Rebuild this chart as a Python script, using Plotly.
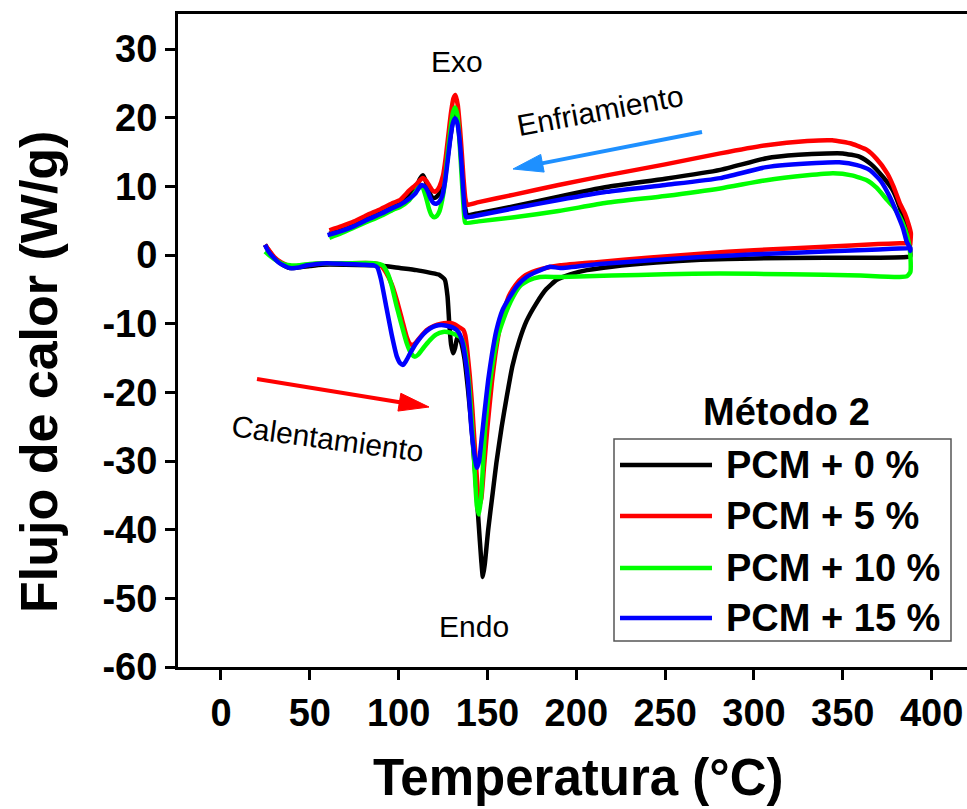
import plotly.graph_objects as go
import math

# ---------------- data ----------------
# PCM + 0 %
t0_heat = [24.8, 27, 30, 34, 38.8, 44, 50, 57, 70, 88, 100.7, 110, 118, 123, 126, 127.5, 128.5, 129.5, 130.7,
           131.7, 132.6, 133.5, 135, 137, 139, 141, 143, 145, 146.5, 147.4, 148.5, 150.4, 153, 155, 158, 160.8,
           164, 168, 172, 177.6, 183, 189, 197, 206, 220, 245, 270, 300, 340, 371, 386, 388]
q0_heat = [1.5, 0.6, -0.4, -1.3, -1.9, -1.8, -1.6, -1.4, -1.4, -1.5, -1.9, -2.2, -2.6, -2.9, -3.6, -6, -10, -13,
           -14.3, -13.6, -12.4, -11.8, -12.6, -15, -19.5, -25, -31.5, -39, -44.5, -46.9, -45, -40, -34.5, -30.3,
           -25, -20.7, -16.2, -12.4, -9.6, -7, -5, -3.6, -2.8, -2.2, -1.7, -1.1, -0.7, -0.5, -0.4, -0.4, -0.3, -0.2]
t0_cool = [388, 387.5, 386, 384, 382, 378, 372.5, 366, 359.6, 350, 341, 325, 307, 281, 250, 217, 190, 165, 145,
           138.5, 137.5, 136.5, 135.3, 134.2, 133, 131.7, 130.5, 129, 127, 125, 123, 121, 119.5, 117.5, 115.5,
           113.8, 112, 110, 106, 100.7, 97, 90, 82, 75, 68, 61]
q0_cool = [0.3, 1.8, 3.5, 5.2, 7, 9.5, 11.4, 13.2, 14.3, 14.8, 14.8, 14.6, 14.1, 12.4, 11.1, 9.9, 8.5, 7.1, 6.1,
           5.8, 6.8, 9.5, 14, 17.5, 19.7, 20.3, 19.5, 17, 13.2, 10.4, 9.0, 8.4, 8.3, 9.0, 10.6,
           11.6, 11.1, 9.9, 8.9, 7.6, 7.0, 6.2, 5.3, 4.5, 3.8, 3.1]

# PCM + 5 %
t5_heat = [24.8, 27, 30, 34, 38.8, 44, 50, 57, 70, 86, 90, 93, 96, 99, 102, 104.5, 106.2, 107.5, 109.5, 112,
           116, 120, 124, 127, 129, 131.5, 134, 136.4, 137.5, 138.4, 140, 141.5, 143, 144.3, 145.3, 146.5, 148,
           150, 152.5, 155, 158, 162, 166, 170, 175, 181, 191, 213, 240, 270, 300, 340, 370, 382, 388]
q5_heat = [1.5, 0.7, -0.3, -1.1, -1.6, -1.6, -1.4, -1.2, -1.2, -1.2, -1.5, -2.6, -4.2, -6.6, -9.5, -11.9, -12.9,
           -13.1, -12.8, -12, -10.9, -10.3, -10.0, -9.9, -9.9, -10.1, -10.5, -10.9, -11.7, -13.4, -17.5, -22.5,
           -28.5, -33.5, -36.5, -35.5, -31, -25, -18.5, -13.5, -9.2, -6, -4.3, -3.2, -2.5, -2.0, -1.5, -1.0,
           -0.4, 0.2, 0.7, 1.2, 1.6, 1.7, 1.7]
t5_cool = [388, 388.3, 387, 385, 382, 378.5, 375, 369, 363.5, 355, 344, 330, 307, 281, 250, 217, 190, 165, 145,
           138.5, 137.5, 136.5, 135.5, 134.5, 133.3, 132, 130.8, 129.5, 128, 126.5, 125, 123, 121.5, 120.4, 119,
           117.5, 115.5, 113.5, 112, 110, 106, 100.7, 97, 90, 82, 75, 68, 61]
q5_cool = [1.7, 3.2, 4.5, 6, 7.6, 10, 11.9, 14, 15.3, 16.2, 16.7, 16.6, 16.0, 14.8, 13.2, 11.6, 10.2, 8.8, 7.7,
           7.3, 8.3, 11.2, 15, 18.5, 21.8, 23.3, 22.8, 20.8, 17.5, 14.2, 11.6, 10.0, 9.4, 9.2, 9.4,
           10.0, 10.8, 11.2, 10.9, 10.3, 9.4, 8.0, 7.6, 6.7, 5.8, 4.9, 4.2, 3.6]

# PCM + 10 %
t10_heat = [24.8, 27, 30, 34, 38.8, 44, 50, 57, 70, 86, 91, 94, 96, 99, 102, 104.5, 107, 109, 111, 114, 117.6,
            121, 125, 129, 132, 134.5, 136, 137.3, 138.5, 140, 141.5, 142.8, 144, 145.2, 146.5, 148.6, 151, 153,
            155.5, 158.8, 163, 168, 173, 179.5, 191, 220, 250, 281, 320, 360, 382, 386, 388, 388.2]
q10_heat = [0.5, 0.0, -0.6, -1.2, -1.5, -1.5, -1.3, -1.2, -1.2, -1.2, -1.5, -2.8, -4.4, -7.6, -10.5, -12.8,
            -14.3, -14.8, -14.5, -13.5, -12.4, -11.6, -11.2, -11.3, -11.6, -11.9, -12.5, -13.8, -16, -20, -25.5,
            -31.5, -36.5, -37.8, -35, -25.5, -19.5, -15.7, -12.2, -9.5, -6.8, -4.6, -3.7, -3.2, -3.2, -3.0,
            -2.8, -2.7, -2.8, -3.0, -3.2, -3.1, -2.5, -1.0]
t10_cool = [387.5, 386.5, 385, 382, 378.5, 375, 369, 363.5, 355, 344.5, 330, 307, 281, 250, 217, 190, 165, 145,
            137.5, 136.8, 136, 135, 134, 133, 131.7, 130.5, 129, 127.5, 126, 124.5, 123, 121.5, 120, 118.5, 117,
            115.5, 113.5, 111.5, 109.5, 106, 100.7, 97, 90, 82, 75, 68, 61]
q10_cool = [1.2, 2.5, 3.8, 5.6, 7.0, 8.0, 9.8, 10.9, 11.6, 11.9, 11.6, 10.9, 9.7, 8.6, 7.6, 6.4, 5.5, 4.9,
            4.7, 6.0, 9.0, 13.5, 17.5, 20.5, 21.5, 20.7, 18, 14.5, 10.5, 8.0, 6.4, 5.7, 5.5, 5.8, 6.8,
            8.3, 9.8, 9.9, 9.2, 8.0, 7.0, 6.6, 5.7, 4.8, 4.0, 3.2, 2.5]

# PCM + 15 %
t15_heat = [24.8, 26.5, 29.3, 33, 38.8, 44, 48.4, 54, 59.6, 70, 80, 86, 88, 90, 93, 96, 99, 101, 102.5, 104,
            106.5, 110, 114, 117.6, 121, 124, 127, 130, 132.6, 134.5, 136, 137.5, 139, 141, 142.5, 144, 145.3,
            146.8, 148.5, 150.4, 152.5, 155, 158.5, 162.6, 167, 172, 178, 185, 191, 213, 240, 270, 300, 340, 370,
            386, 388]
q15_heat = [1.5, 0.6, -0.3, -1.2, -1.9, -1.8, -1.5, -1.3, -1.2, -1.3, -1.4, -1.5, -1.8, -3.5, -7.5, -11.5,
            -14.8, -15.8, -16, -15.5, -14.3, -12.8, -11.5, -10.7, -10.3, -10.2, -10.3, -10.5, -10.9, -11.6,
            -12.8, -15, -18.2, -25.5, -28.8, -31, -30, -26.5, -22.5, -18.2, -14.5, -11, -8, -6.1, -4.4, -3.2,
            -2.4, -1.7, -1.9, -1.3, -0.8, -0.3, 0.1, 0.5, 0.8, 1.0, 1.0]
t15_cool = [388, 387.5, 386, 384, 380.5, 376, 371, 365, 358, 348, 335, 307, 281, 250, 217, 190, 165, 145,
            138, 137.2, 136.4, 135.4, 134.3, 133, 131.7, 130.5, 129, 127.5, 126, 124.5, 123, 121.5, 119.5, 118,
            116.5, 115, 113, 111.5, 109.5, 106, 100.7, 97, 90, 82, 75, 68, 60]
q15_cool = [0.6, 1.2, 1.9, 3.8, 6.1, 8.7, 10.9, 12.4, 13.1, 13.5, 13.4, 12.8, 11.2, 10.2, 9.2, 8.0, 6.8, 5.8,
            5.5, 6.5, 9.2, 13.2, 16.8, 19.2, 19.9, 19.2, 16.8, 13.5, 10.5, 8.6, 7.8, 7.5, 7.6, 8.2,
            9.2, 9.9, 10.2, 9.8, 9.0, 8.2, 7.3, 6.9, 6.0, 5.1, 4.2, 3.5, 2.9]

labels = ["PCM + 0 %", "PCM + 5 %", "PCM + 10 %", "PCM + 15 %"]
colors = ["#000000", "#ff0000", "#00ff00", "#0000ff"]

series = [
    (t0_heat + t0_cool, q0_heat + q0_cool),
    (t5_heat + t5_cool, q5_heat + q5_cool),
    (t10_heat + t10_cool, q10_heat + q10_cool),
    (t15_heat + t15_cool, q15_heat + q15_cool),
]

x_ticks = [0, 50, 100, 150, 200, 250, 300, 350, 400]
y_ticks = [30, 20, 10, 0, -10, -20, -30, -40, -50, -60]
x_title = "Temperatura (°C)"
y_title = "Flujo de calor (W/g)"

FONT = "Liberation Sans, Arial, sans-serif"

fig = go.Figure()
for (tx, qy), name, col in zip(series, labels, colors):
    fig.add_trace(go.Scatter(x=tx, y=qy, mode="lines", name=name,
                             line=dict(color=col, width=4.5, shape="spline", smoothing=0.5),
                             showlegend=False))

W, H = 967, 809
L, R, T, B = 178, 967, 14, 667


def px(xp):
    return (xp - L) / (R - L)


def py(yp):
    return (B - yp) / (B - T)


shapes = []
annotations = []


def arrow(x0, y0, x1, y1, color, head_len=30, half_w=9, lw=4):
    dx, dy = x1 - x0, y1 - y0
    ln = math.hypot(dx, dy)
    ux, uy = dx / ln, dy / ln
    nx, ny = -uy, ux
    bx, by = x1 - head_len * ux, y1 - head_len * uy
    shapes.append(dict(type="line", xref="paper", yref="paper",
                       x0=px(x0), y0=py(y0), x1=px(bx + 2 * ux), y1=py(by + 2 * uy),
                       line=dict(color=color, width=lw)))
    p = "M {} {} L {} {} L {} {} Z".format(
        px(x1), py(y1), px(bx + half_w * nx), py(by + half_w * ny), px(bx - half_w * nx), py(by - half_w * ny))
    shapes.append(dict(type="path", xref="paper", yref="paper", path=p,
                       fillcolor=color, line=dict(color=color, width=1)))


arrow(257, 379, 429, 407, "#ff0000")
arrow(702, 132, 513, 169, "#1e90ff")


def label(text, xp, yp, size=30, angle=0):
    annotations.append(dict(text=text, x=px(xp), y=py(yp), xref="paper", yref="paper", showarrow=False,
                            xanchor="center", yanchor="middle", textangle=angle,
                            font=dict(family=FONT, size=size, color="black")))


label("Exo", 457, 61)
label("Endo", 474, 626)
label("Enfriamiento", 600, 111, angle=-10.5)
label("Calentamiento", 327, 438, angle=7.7)

# axis titles
label("<b>" + x_title + "</b>", 578, 777, size=51)
label("<b>" + y_title + "</b>", 39, 372, size=52, angle=-90)

# legend (drawn manually to match the long line samples)
label("<b>Método 2</b>", 786, 412, size=38)
shapes.append(dict(type="rect", xref="paper", yref="paper", x0=px(614), y0=py(439), x1=px(951), y1=py(641),
                   line=dict(color="#555555", width=1.5), fillcolor="rgba(0,0,0,0)"))
row_y = [465, 516, 568, 618]
for name, col, ry in zip(labels, colors, row_y):
    shapes.append(dict(type="line", xref="paper", yref="paper", x0=px(620), x1=px(712), y0=py(ry), y1=py(ry),
                       line=dict(color=col, width=4.5)))
    annotations.append(dict(text="<b>" + name + "</b>", x=px(724), y=py(ry), xref="paper", yref="paper",
                            xanchor="left", yanchor="middle", showarrow=False,
                            font=dict(family=FONT, size=38, color="black")))

fig.update_layout(
    width=W, height=H,
    margin=dict(l=L, r=W - R, t=T, b=H - B),
    paper_bgcolor="white", plot_bgcolor="white",
    shapes=shapes, annotations=annotations,
    showlegend=False,
    xaxis=dict(range=[-24.2, 419.9], tickvals=x_ticks, ticktext=[str(v) for v in x_ticks],
               ticks="outside", ticklen=10, tickwidth=3, tickcolor="black",
               showline=True, linewidth=3, linecolor="black", mirror=True,
               showgrid=False, zeroline=False,
               tickfont=dict(family=FONT, size=38, color="black", weight="bold")),
    yaxis=dict(range=[-60, 35.1], tickvals=y_ticks, ticktext=[str(v) for v in y_ticks],
               ticks="outside", ticklen=10, tickwidth=3, tickcolor="black",
               showline=True, linewidth=3, linecolor="black", mirror=False,
               showgrid=False, zeroline=False,
               tickfont=dict(family=FONT, size=38, color="black", weight="bold")),
)

fig.write_html("out.html")
